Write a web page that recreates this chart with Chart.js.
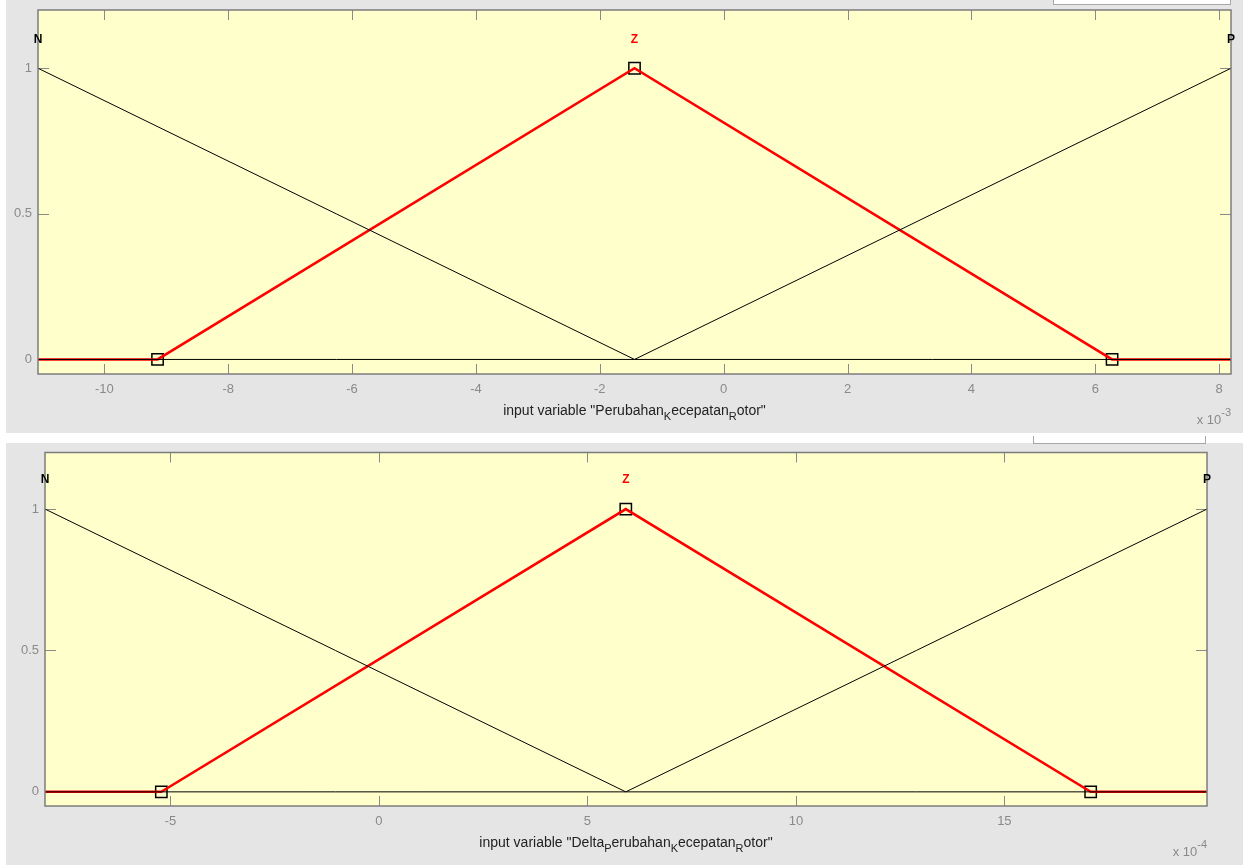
<!DOCTYPE html>
<html>
<head>
<meta charset="utf-8">
<script src="https://cdn.jsdelivr.net/npm/chart.js@4"></script>
<style>
  body { margin: 0; background: #fff; width: 1243px; height: 865px; position: relative; overflow: hidden; }
  .panel { position: absolute; left: 6px; width: 1237px; background: #e5e5e5; }
  #pan1 { top: 0; height: 433px; }
  #pan2 { top: 443px; height: 422px; }
  .panel canvas { position: absolute; left: 0; top: 0; }
  .box { position: absolute; background: #fff; border: 1px solid #a8a8a8; border-top: none; z-index: 2; }
</style>
</head>
<body>
<div class="panel" id="pan1"><canvas id="chart1" width="1237" height="433"></canvas></div>
<div class="panel" id="pan2"><canvas id="chart2" width="1237" height="422"></canvas></div>
<div class="box" style="left:1053px;top:-4px;width:176px;height:8px"></div>
<div class="box" style="left:1033px;top:436px;width:171px;height:7px"></div>
<script>
// shared
const yTicks = [0, 0.5, 1];
const yRange = [-0.05, 1.2];
const mfNames = ['N', 'Z', 'P'];

// top panel, x in units of 1e-3
const x1Range = [-11.07, 8.19];
const x1Ticks = [-10, -8, -6, -4, -2, 0, 2, 4, 6, 8];
const n1X = [-11.07, -1.44, 8.19], n1Y = [1, 0, 0];
const z1X = [-11.07, -9.14, -1.44, 6.27, 8.19], z1Y = [0, 0, 1, 0, 0];
const p1X = [-11.07, -1.44, 8.19], p1Y = [0, 0, 1];
const z1MarkX = [-9.14, -1.44, 6.27], z1MarkY = [0, 1, 0];
const title1 = [['input variable "Perubahan', 0], ['K', 1], ['ecepatan', 0], ['R', 1], ['otor"', 0]];
const exp1 = '-3';

// bottom panel, x in units of 1e-4
const x2Range = [-8.01, 19.86];
const x2Ticks = [-5, 0, 5, 10, 15];
const n2X = [-8.01, 5.92, 19.86], n2Y = [1, 0, 0];
const z2X = [-8.01, -5.22, 5.92, 17.07, 19.86], z2Y = [0, 0, 1, 0, 0];
const p2X = [-8.01, 5.92, 19.86], p2Y = [0, 0, 1];
const z2MarkX = [-5.22, 5.92, 17.07], z2MarkY = [0, 1, 0];
const title2 = [['input variable "Delta', 0], ['P', 1], ['erubahan', 0], ['K', 1], ['ecepatan', 0], ['R', 1], ['otor"', 0]];
const exp2 = '-4';

const FONT = '"Liberation Sans", Arial, sans-serif';
const GRAY = '#8a8a8a';

const pts = (xs, ys) => xs.map((x, i) => ({ x, y: ys[i] }));

const matlabAxes = {
  id: 'matlabAxes',
  beforeDraw(chart) {
    const { ctx, chartArea: a } = chart;
    ctx.save();
    ctx.fillStyle = '#ffffcc';
    ctx.fillRect(a.left, a.top, a.width, a.height);
    ctx.restore();
  },
  beforeDatasetsDraw(chart) {
    const { ctx, chartArea: a, scales } = chart;
    ctx.save();
    ctx.strokeStyle = GRAY;
    ctx.lineWidth = 1;
    ctx.beginPath();
    scales.x.ticks.forEach(t => {
      const px = Math.round(scales.x.getPixelForValue(t.value)) + 0.5;
      ctx.moveTo(px, a.bottom); ctx.lineTo(px, a.bottom - 10);
      ctx.moveTo(px, a.top); ctx.lineTo(px, a.top + 10);
    });
    scales.y.ticks.forEach(t => {
      const py = Math.round(scales.y.getPixelForValue(t.value)) + 0.5;
      ctx.moveTo(a.left, py); ctx.lineTo(a.left + 11, py);
      ctx.moveTo(a.right, py); ctx.lineTo(a.right - 11, py);
    });
    ctx.stroke();
    ctx.restore();
  },
  afterDraw(chart, args, opts) {
    const { ctx, chartArea: a, scales } = chart;
    ctx.save();
    ctx.strokeStyle = '#7c7c7c';
    ctx.lineWidth = 1.5;
    ctx.strokeRect(a.left, a.top, a.width, a.height);

    // membership function names above the peaks
    ctx.font = 'bold 12px ' + FONT;
    ctx.textAlign = 'center';
    ctx.textBaseline = 'middle';
    const yLab = scales.y.getPixelForValue(1) - 29;
    opts.peaks.forEach((x, i) => {
      ctx.fillStyle = mfNames[i] === 'Z' ? '#ff0000' : '#000';
      ctx.fillText(mfNames[i], scales.x.getPixelForValue(x), yLab);
    });

    // axis title with subscripts
    ctx.textAlign = 'left';
    ctx.textBaseline = 'alphabetic';
    const big = '14px ' + FONT, small = '11px ' + FONT;
    let total = 0;
    opts.title.forEach(([s, sub]) => { ctx.font = sub ? small : big; total += ctx.measureText(s).width; });
    let x = (a.left + a.right) / 2 - total / 2;
    const base = a.bottom + 41;
    ctx.fillStyle = '#222';
    opts.title.forEach(([s, sub]) => {
      ctx.font = sub ? small : big;
      ctx.fillText(s, x, base + (sub ? 5 : 0));
      x += ctx.measureText(s).width;
    });

    // exponent label
    ctx.fillStyle = GRAY;
    ctx.font = small;
    const ew = ctx.measureText(opts.exp).width;
    ctx.textAlign = 'right';
    ctx.fillText(opts.exp, a.right, a.bottom + 42);
    ctx.font = '13px ' + FONT;
    ctx.fillText('x 10', a.right - ew, a.bottom + 50);
    ctx.restore();
  }
};

function makePanel(id, xRange, xTicks, sets, peaks, title, exp, padTop, yWidth, padRight) {
  return new Chart(document.getElementById(id), {
    type: 'line',
    data: {
      datasets: [
        { data: sets[0], borderColor: '#000', borderWidth: 1, pointRadius: 0 },
        { data: sets[1], borderColor: '#000', borderWidth: 1, pointRadius: 0 },
        { data: sets[2], borderColor: '#ff0000', borderWidth: 2.5, pointRadius: 0 },
        { data: sets[3], showLine: false, pointStyle: 'rect', pointRadius: 8,
          pointBorderColor: '#000', pointBorderWidth: 1.5, pointBackgroundColor: 'rgba(0,0,0,0)' }
      ]
    },
    options: {
      responsive: false,
      animation: false,
      layout: { padding: { top: padTop, right: padRight, left: 0, bottom: 0 } },
      plugins: {
        legend: { display: false },
        tooltip: { enabled: false },
        matlabAxes: { peaks, title, exp }
      },
      scales: {
        x: {
          type: 'linear', min: xRange[0], max: xRange[1],
          afterBuildTicks: s => { s.ticks = xTicks.map(v => ({ value: v })); },
          afterFit: s => { s.height = 59; s.paddingLeft = 0; s.paddingRight = 0; },
          grid: { display: false, drawTicks: false },
          border: { display: false },
          ticks: { color: GRAY, font: { size: 13, family: FONT }, padding: 8, maxRotation: 0, autoSkip: false, callback: v => String(v) }
        },
        y: {
          type: 'linear', min: yRange[0], max: yRange[1],
          afterBuildTicks: s => { s.ticks = yTicks.map(v => ({ value: v })); },
          afterFit: s => { s.width = yWidth; s.paddingTop = 0; s.paddingBottom = 0; },
          grid: { display: false, drawTicks: false },
          border: { display: false },
          ticks: { color: GRAY, font: { size: 13, family: FONT }, padding: 6, callback: v => String(v) }
        }
      }
    },
    plugins: [matlabAxes]
  });
}

makePanel('chart1', x1Range, x1Ticks,
  [pts(n1X, n1Y), pts(p1X, p1Y), pts(z1X, z1Y), pts(z1MarkX, z1MarkY)],
  [n1X[0], z1X[2], p1X[2]], title1, exp1, 10, 32, 12);

makePanel('chart2', x2Range, x2Ticks,
  [pts(n2X, n2Y), pts(p2X, p2Y), pts(z2X, z2Y), pts(z2MarkX, z2MarkY)],
  [n2X[0], z2X[2], p2X[2]], title2, exp2, 7, 39, 36);
</script>
</body>
</html>
